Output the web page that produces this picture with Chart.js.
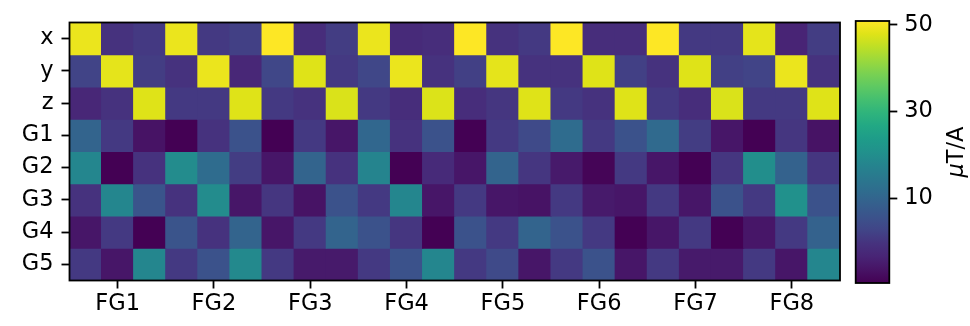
<!DOCTYPE html>
<html lang="en">
<head>
<meta charset="UTF-8">
<title>Heatmap</title>
<script src="https://cdn.jsdelivr.net/npm/chart.js"></script>
<style>
  body { margin: 0; background: #fff; }
  #wrap { position: relative; width: 970px; height: 326px; }
  #main { position: absolute; left: 0; top: 0; }
  #cbar { position: absolute; left: 840px; top: 0; }
</style>
</head>
<body>
<div id="wrap">
  <canvas id="main" width="850" height="326"></canvas>
  <canvas id="cbar" width="130" height="326"></canvas>
</div>
<script>
// rows top to bottom, 24 columns = 8 groups x (x, y, z)
const rowLabels = ['x', 'y', 'z', 'G1', 'G2', 'G3', 'G4', 'G5'];
const groupLabels = ['FG1', 'FG2', 'FG3', 'FG4', 'FG5', 'FG6', 'FG7', 'FG8'];
const cbarTicks = [10, 30, 50];
const vmin = -9.6;
const vmax = 50.9;

const rowX  = [49.1, -0.5, 0.7, 49.1, 0.7, 1.9, 50.9, -1.7, 1.3, 49.1, -2.3, -1.7, 50.9, -0.5, 0.7, 50.9, -1.7, -1.7, 50.9, 0.7, 0.7, 48.5, -3.6, 1.3];
const rowY  = [2.5, 48.5, 1.3, -0.5, 49.1, -2.9, 3.1, 47.9, 0.7, 3.1, 49.1, -0.5, 1.9, 48.5, -0.5, -0.5, 47.9, 1.9, -0.5, 47.9, 1.9, 2.5, 49.1, -0.5];
const rowZ  = [-2.9, -0.5, 47.9, 0.7, 0.7, 47.9, 0.7, -0.5, 47.4, 0.7, -1.7, 47.6, -1.7, 0.1, 47.9, 0.7, -0.5, 47.9, 0.7, -1.7, 47.4, 0.7, 0.7, 47.9];
const rowG1 = [9.8, 0.7, -6.6, -9.6, -0.5, 5.5, -9.6, 0.7, -6.0, 10.4, -0.5, 5.5, -9.6, 0.7, 3.7, 11.6, 0.7, 5.5, 11.0, 1.3, -6.0, -9.6, 0.1, -6.6];
const rowG2 = [18.2, -9.6, -0.5, 19.4, 11.6, 1.3, -6.0, 9.8, -0.5, 17.6, -9.6, -2.3, -6.0, 9.8, 0.1, -5.4, -9.0, 0.7, -6.0, -9.6, 0.1, 20.0, 9.2, 0.1];
const rowG3 = [-0.5, 18.2, 6.1, -0.5, 19.4, -6.0, 0.1, -6.6, 5.5, 0.7, 18.2, -6.0, 0.7, -6.0, -6.6, 0.7, -5.4, -6.0, 0.7, -6.0, 5.5, 0.7, 20.7, 5.5];
const rowG4 = [-6.0, 0.7, -9.6, 6.1, -0.5, 9.8, -6.0, 0.7, 9.8, 5.5, 0.1, -9.6, 5.5, 0.7, 9.8, 5.5, 0.7, -9.6, -6.0, 0.7, -9.6, -6.0, 0.7, 9.2];
const rowG5 = [0.7, -6.0, 18.2, 0.7, 5.5, 18.8, 0.7, -5.4, -5.4, 0.7, 5.5, 18.2, 0.7, 3.7, -6.0, 0.7, 5.5, -6.0, 0.7, -5.4, -5.4, 0.7, -6.0, 18.2];
const rows = [rowX, rowY, rowZ, rowG1, rowG2, rowG3, rowG4, rowG5];

// viridis, 21 samples
const viridis = ['#440154', '#471365', '#482475', '#46327e', '#414487', '#3b528b', '#355f8d', '#2f6c8e',
  '#2a788e', '#25848e', '#21918c', '#1e9c89', '#22a884', '#2fb47c', '#44bf70', '#5ec962',
  '#7ad151', '#9bd93c', '#bddf26', '#dfe318', '#fde725'];

function hexRgb(h) {
    return [parseInt(h.slice(1, 3), 16), parseInt(h.slice(3, 5), 16), parseInt(h.slice(5, 7), 16)];
}
function colorFor(v) {
    let t = (v - vmin) / (vmax - vmin);
    t = Math.max(0, Math.min(1, t));
    const p = t * (viridis.length - 1);
    const i = Math.min(Math.floor(p), viridis.length - 2);
    const f = p - i;
    const a = hexRgb(viridis[i]), b = hexRgb(viridis[i + 1]);
    const c = a.map((x, k) => Math.round(x + (b[k] - x) * f));
    return `rgb(${c[0]},${c[1]},${c[2]})`;
}

const font = { family: 'DejaVu Sans', size: 22.5 };

const datasets = rows.map((vals, r) => ({
    label: rowLabels[r],
    data: vals.map((v, c) => ({ x: c + 0.5, y: [r, r + 1], v: v })),
    backgroundColor: (ctx) => colorFor(ctx.raw.v),
    borderWidth: 0,
    inflateAmount: 0.6,
    grouped: false,
    barPercentage: 1,
    categoryPercentage: 1
}));

const frame = {
    id: 'frame',
    afterDatasetsDraw(chart) {
        const a = chart.chartArea;
        const ctx = chart.ctx;
        ctx.save();
        ctx.strokeStyle = '#000';
        ctx.lineWidth = 1.8;
        ctx.strokeRect(a.left, a.top, a.right - a.left, a.bottom - a.top);
        ctx.restore();
    }
};

new Chart(document.getElementById('main'), {
    type: 'bar',
    data: { datasets: datasets },
    options: {
        responsive: false,
        animation: false,
        layout: { padding: { top: 22.5, right: 10, left: 0, bottom: 0 } },
        plugins: { legend: { display: false }, tooltip: { enabled: false } },
        scales: {
            x: {
                type: 'linear',
                min: 0,
                max: 24,
                offset: false,
                afterBuildTicks: (scale) => {
                    scale.ticks = groupLabels.map((g, i) => ({ value: 3 * i + 1.5 }));
                },
                afterFit: (scale) => { scale.height = 45.5; },
                ticks: {
                    autoSkip: false,
                    maxRotation: 0,
                    padding: 2,
                    color: '#000',
                    font: font,
                    callback: (v, i) => groupLabels[i]
                },
                grid: { offset: false, drawOnChartArea: false, tickLength: 8, tickWidth: 1.8, tickColor: '#000' },
                border: { display: false }
            },
            y: {
                type: 'linear',
                min: 0,
                max: 8,
                reverse: true,
                afterBuildTicks: (scale) => {
                    scale.ticks = rowLabels.map((l, i) => ({ value: i + 0.5 }));
                },
                afterFit: (scale) => { scale.width = 69.5; },
                ticks: {
                    autoSkip: false,
                    padding: 8,
                    color: '#000',
                    font: font,
                    callback: (v, i) => rowLabels[i]
                },
                grid: { drawOnChartArea: false, tickLength: 8, tickWidth: 1.8, tickColor: '#000' },
                border: { display: false }
            }
        }
    },
    plugins: [frame]
});

// colour bar
const cbarLabel = {
    id: 'cbarLabel',
    afterDraw(chart) {
        const ctx = chart.ctx;
        const a = chart.chartArea;
        const cy = (a.top + a.bottom) / 2;
        ctx.save();
        ctx.translate(117, cy);
        ctx.rotate(-Math.PI / 2);
        ctx.fillStyle = '#000';
        ctx.textBaseline = 'middle';
        ctx.font = 'italic 22.5px "DejaVu Sans"';
        const w1 = ctx.measureText('\u03bc').width;
        ctx.font = '22.5px "DejaVu Sans"';
        const w2 = ctx.measureText('T/A').width;
        const x0 = -(w1 + w2) / 2;
        ctx.font = 'italic 22.5px "DejaVu Sans"';
        ctx.fillText('\u03bc', x0, 0);
        ctx.font = '22.5px "DejaVu Sans"';
        ctx.fillText('T/A', x0 + w1, 0);
        ctx.restore();
    }
};

new Chart(document.getElementById('cbar'), {
    type: 'bar',
    data: {
        labels: [''],
        datasets: [{
            data: [[vmin, vmax]],
            backgroundColor: (ctx) => {
                const a = ctx.chart.chartArea;
                if (!a) return viridis[0];
                const g = ctx.chart.ctx.createLinearGradient(0, a.bottom, 0, a.top);
                viridis.forEach((c, i) => g.addColorStop(i / (viridis.length - 1), c));
                return g;
            },
            borderWidth: 0,
            barPercentage: 1,
            categoryPercentage: 1
        }]
    },
    options: {
        responsive: false,
        animation: false,
        layout: { padding: { top: 21, right: 0, left: 15.7, bottom: 43 } },
        plugins: { legend: { display: false }, tooltip: { enabled: false } },
        scales: {
            x: { display: false },
            y: {
                position: 'right',
                min: vmin,
                max: vmax,
                afterBuildTicks: (scale) => {
                    scale.ticks = cbarTicks.map(v => ({ value: v }));
                },
                afterFit: (scale) => { scale.width = 80.7; },
                ticks: { padding: 7, color: '#000', font: font },
                grid: { drawOnChartArea: false, tickLength: 8, tickWidth: 1.8, tickColor: '#000' },
                border: { display: false }
            }
        }
    },
    plugins: [frame, cbarLabel]
});
</script>
</body>
</html>
